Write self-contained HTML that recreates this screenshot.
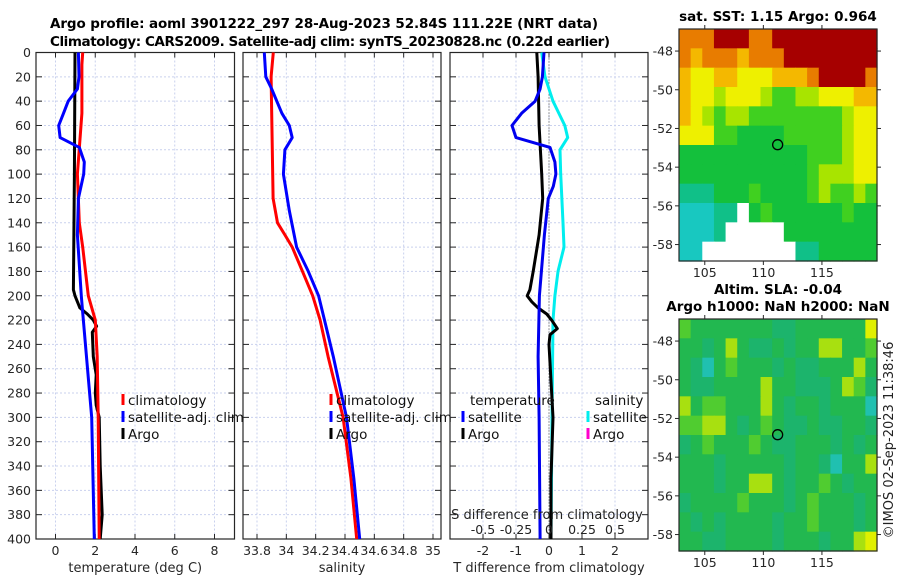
<!DOCTYPE html>
<html><head><meta charset="utf-8"><style>
html,body{margin:0;padding:0;background:#fff;}
svg{display:block;font-family:"DejaVu Sans","Liberation Sans",sans-serif;}
</style></head><body>
<svg id="fig" width="900" height="580" viewBox="0 0 900 580" xmlns="http://www.w3.org/2000/svg">
<rect width="900" height="580" fill="#fff"/>
<text x="50" y="28" font-size="13.5" font-weight="bold" fill="#000" textLength="548">Argo profile: aoml 3901222_297 28-Aug-2023 52.84S 111.22E (NRT data)</text>
<text x="50" y="46" font-size="13.5" font-weight="bold" fill="#000" textLength="560">Climatology: CARS2009. Satellite-adj clim: synTS_20230828.nc (0.22d earlier)</text>
<g id="layer"></g>
</svg>
<script>
// ---- profile data ----
var depthTClim = [0,10,50,100,140,160,200,220,250,300,400];
var tempClim   = [1.37,1.33,1.33,1.1,1.2,1.37,1.65,2.0,2.1,2.15,2.2];
var depthTSat  = [0,20,30,40,50,60,70,78,90,100,120,150,200,210,300,400];
var tempSat    = [1.15,1.18,1.1,0.64,0.4,0.16,0.23,1.2,1.45,1.42,1.15,1.1,1.3,1.35,1.82,1.95];
var depthTArgo = [0,100,195,200,210,215,220,225,230,250,265,280,290,300,340,380,400];
var tempArgo   = [0.98,0.95,0.9,0.98,1.23,1.6,1.9,2.07,1.85,1.9,2.05,2.0,2.05,2.2,2.25,2.35,2.25];
var depthSClim = [0,20,100,120,140,150,160,180,200,220,250,300,350,400];
var salClim    = [33.911,33.896,33.907,33.91,33.94,33.99,34.04,34.11,34.18,34.23,34.285,34.387,34.44,34.48];
var depthSSat  = [0,20,30,50,60,70,80,100,130,160,180,200,220,250,300,350,400];
var salSat     = [33.85,33.86,33.9,33.97,34.02,34.04,33.99,33.98,34.02,34.07,34.15,34.22,34.26,34.32,34.41,34.46,34.5];
var depthDT    = [0,20,30,40,50,60,70,78,90,100,110,120,150,200,250,300,400];
var tDiffSat   = [-0.15,-0.2,-0.27,-0.42,-0.83,-1.12,-1.0,0.03,0.18,0.21,0.13,-0.02,-0.14,-0.29,-0.33,-0.3,-0.27];
var depthDTA   = [0,20,60,100,120,150,180,195,200,205,210,215,220,227,232,240,300,350,400];
var tDiffArgo  = [-0.37,-0.33,-0.3,-0.22,-0.19,-0.3,-0.48,-0.58,-0.66,-0.52,-0.33,-0.07,0.08,0.25,0.03,0.0,0.12,0.06,0.06];
var depthDS    = [0,20,40,60,70,80,100,140,160,180,200,220,300,400];
var sDiffSat   = [-0.055,-0.03,0.03,0.12,0.142,0.083,0.089,0.106,0.114,0.068,0.045,0.03,0.023,0.015];
var depthTicks = [0,20,40,60,80,100,120,140,160,180,200,220,240,260,280,300,320,340,360,380,400];
var tTicks = [0,2,4,6,8];
var sTicks = [33.8,34,34.2,34.4,34.6,34.8,35];
var sTickLabels = ["33.8","34","34.2","34.4","34.6","34.8","35"];
var dTTicks = [-2,-1,0,1,2];
var dSTicks = [-0.5,-0.25,0,0.25,0.5];
var dSTickLabels = ["-0.5","-0.25","0","0.25","0.5"];
// ---- map data (1 deg cells, rows from north) ----
var sstLevels = [
[8,8,8,9,9,9,8,8,9,9,9,9,9,9,9,9,9],
[8,7,8,8,8,7,8,8,8,9,9,9,9,9,9,9,9],
[7,6,6,7,7,6,6,6,7,7,7,8,9,9,9,9,8],
[7,6,6,5,6,6,6,5,4,4,5,5,6,6,6,7,7],
[7,6,5,4,5,5,4,4,4,4,4,4,4,4,5,6,6],
[6,6,6,4,4,3,3,3,3,4,4,4,4,4,5,6,6],
[3,3,3,3,3,3,3,3,3,3,3,4,4,4,5,6,6],
[3,3,3,3,3,3,3,3,3,3,3,4,5,5,5,6,6],
[2,2,2,3,3,3,4,3,3,3,3,4,5,4,4,5,4],
[1,1,1,2,2,0,3,4,3,3,3,3,3,3,4,3,3],
[1,1,1,2,0,0,0,0,0,3,3,3,3,3,3,3,3],
[1,1,0,0,0,0,0,0,0,0,2,2,3,3,3,3,3]];
var slaLevels = [
[4,3,3,3,3,3,3,3,2,2,3,3,3,3,3,3,6],
[3,3,2,3,5,3,2,2,3,2,3,3,5,5,3,3,4],
[3,2,1,3,4,3,3,3,2,3,2,2,3,3,3,5,3],
[3,2,2,3,3,3,3,5,3,3,2,2,2,3,5,4,2],
[5,3,4,4,3,3,3,5,3,2,3,3,2,3,3,3,1],
[4,4,5,5,3,2,3,4,3,2,2,3,2,2,3,3,2],
[2,3,4,3,3,3,4,3,2,2,3,3,3,2,3,2,3],
[3,3,3,2,3,3,3,3,3,2,3,3,2,1,3,3,5],
[3,3,3,2,3,3,5,5,3,2,3,3,4,3,2,3,3],
[2,3,3,3,3,4,3,3,3,2,3,4,3,3,3,2,3],
[3,2,3,2,3,3,3,3,2,3,3,4,3,3,3,2,3],
[3,3,2,2,3,3,3,3,2,3,3,3,2,3,3,5,6]];
var lonTicks = [105,110,115];
var latTicks = [-48,-50,-52,-54,-56,-58];
var argoLon = 111.22, argoLat = -52.84;

var NS="http://www.w3.org/2000/svg";
var L=document.getElementById('layer');
function mk(tag,at,parent){var e=document.createElementNS(NS,tag);for(var k in at)e.setAttribute(k,at[k]);(parent||L).appendChild(e);return e;}
function txt(x,y,s,at){var e=mk('text',Object.assign({x:x,y:y,'font-size':12.5,fill:'#262626'},at||{}));e.textContent=s;return e;}

var Y0=52.5,Y1=539;
function yD(d){return Y0+(Y1-Y0)*d/400;}
function lin(d0,d1,p0,p1){return function(v){return p0+(v-d0)*(p1-p0)/(d1-d0);};}

function panel(name,x0,x1,xs,ticks,labels,yLabels,xtitle){
  var g=mk('g',{});
  
  
  ticks.forEach(function(t,i){
    var x=xs(t);
    mk('line',{x1:x,x2:x,y1:Y0,y2:Y1,stroke:'#c9d1ee','stroke-width':1,'stroke-dasharray':'2,2'},g);
    mk('line',{x1:x,x2:x,y1:Y1,y2:Y1-5,stroke:'#262626'},g);
    mk('line',{x1:x,x2:x,y1:Y0,y2:Y0+5,stroke:'#262626'},g);
    var t2=txt(x,555,labels[i],{'text-anchor':'middle'});
    
    
  });
  depthTicks.forEach(function(d){
    var y=yD(d);
    mk('line',{x1:x0,x2:x1,y1:y,y2:y,stroke:'#c9d1ee','stroke-width':1,'stroke-dasharray':'2,2'},g);
    mk('line',{x1:x0,x2:x0+6,y1:y,y2:y,stroke:'#262626'},g);
    mk('line',{x1:x1,x2:x1-6,y1:y,y2:y,stroke:'#262626'},g);
    if(yLabels){var t=txt(x0-5,y+4.5,String(d),{'text-anchor':'end'});
      
      }
  });
  mk('rect',{x:x0,y:Y0,width:x1-x0,height:Y1-Y0,fill:'none',stroke:'#262626','stroke-width':1.2},g);
  if(xtitle){var tt=txt((x0+x1)/2,572,xtitle,{'text-anchor':'middle','font-size':13});
    
    }
  return g;
}
function line(xs,vals,deps,color,name,w){
  var p=vals.map(function(v,i){return xs(v).toFixed(1)+','+yD(deps[i]).toFixed(1);}).join(' ');
  var e=mk('polyline',{points:p,fill:'none',stroke:color,'stroke-width':w||3,'stroke-linejoin':'round'});
  
  
}
function legend(x,y,color,label,name){
  mk('rect',{x:x-1.5,y:y-11,width:3,height:11,fill:color});
  var t=txt(x+5,y,label,{'font-size':13.5,fill:'#111'});
  
  
}

// Panel 1 temperature
var xT=lin(0,8,55.5,214.5);
panel('temperature-panel',36,234.5,xT,tTicks,tTicks.map(String),true,'temperature (deg C)');
line(xT,tempArgo,depthTArgo,'#000','argo-temperature-line');
line(xT,tempClim,depthTClim,'#ff0000','climatology-temperature-line');
line(xT,tempSat,depthTSat,'#0000ff','satellite-temperature-line');
legend(123,405,'#ff0000','climatology','legend-climatology');
legend(123,422,'#0000ff','satellite-adj. clim','legend-satellite-adj');
legend(123,439,'#000','Argo','legend-argo');

// Panel 2 salinity
var xS=lin(33.8,35,257,433);
panel('salinity-panel',243,441,xS,sTicks,sTickLabels,false,'salinity');
line(xS,salClim,depthSClim,'#ff0000','climatology-salinity-line');
line(xS,salSat,depthSSat,'#0000ff','satellite-salinity-line');
legend(331,405,'#ff0000','climatology','legend-climatology-2');
legend(331,422,'#0000ff','satellite-adj. clim','legend-satellite-adj-2');
legend(331,439,'#000','Argo','legend-argo-2');

// Panel 3 differences
var xD=lin(-2,2,483,615);
var xDS=lin(-0.5,0.5,483,615);
panel('difference-panel',450,648,xD,dTTicks,dTTicks.map(String),false,'T difference from climatology');
mk('line',{x1:549,x2:549,y1:Y0,y2:Y1,stroke:'#444','stroke-width':1,'stroke-dasharray':'1,2'});
line(xDS,sDiffSat,depthDS,'#00eeee','salinity-difference-satellite-line');
line(xD,tDiffArgo,depthDTA,'#000','argo-temperature-difference-line');
line(xD,tDiffSat,depthDT,'#0000ee','satellite-temperature-difference-line');
var tl=txt(470,405,'temperature',{'font-size':13.5,fill:'#111'});


legend(463,422,'#0000ff','satellite','legend-t-satellite');
legend(463,439,'#000','Argo','legend-t-argo');
var sl=txt(595,405,'salinity',{'font-size':13.5,fill:'#111'});


legend(588,422,'#00eeee','satellite','legend-s-satellite');
legend(588,439,'#ff00cc','Argo','legend-s-argo');
var sdt=txt(547,519,'S difference from climatology',{'text-anchor':'middle','font-size':13,fill:'#222'});


dSTicks.forEach(function(v,i){
  var e=txt(xDS(v),534,dSTickLabels[i],{'text-anchor':'middle','font-size':12.5,fill:'#222'});
  
  
});

// Maps
var sstColors=['#ffffff','#18c8c0','#10c088','#14c03c','#40d020','#a8e400','#eef000','#f4b800','#e87c00','#a60000'];
var slaColors=['#ffffff','#20c0b0','#1cb46c','#22b850','#50cc30','#a8e010','#e0f000'];
function map(name,top,bottom,levels,colors,title1,title2){
  var x0=679,x1=877;
  var lx=lin(102.8,119.7,x0,x1), ly=lin(-46.86,-58.85,top,bottom);
  var g=mk('g',{});
  
  
  var nr=levels.length,nc=levels[0].length;
  var cw=(x1-x0)/nc,ch=(bottom-top)/nr;
  levels.forEach(function(row,r){row.forEach(function(v,c){
    var e=mk('rect',{x:(x0+c*cw).toFixed(2),y:(top+r*ch).toFixed(2),width:(cw+0.6).toFixed(2),height:(ch+0.6).toFixed(2),fill:colors[v]},g);
    
    
  });});
  mk('rect',{x:x0,y:top,width:x1-x0,height:bottom-top,fill:'none',stroke:'#262626','stroke-width':1.2},g);
  lonTicks.forEach(function(v){
    mk('line',{x1:lx(v),x2:lx(v),y1:bottom,y2:bottom+4,stroke:'#262626'},g);
    mk('line',{x1:lx(v),x2:lx(v),y1:top,y2:top-4,stroke:'#262626'},g);
    var e=txt(lx(v),bottom+16,String(v),{'text-anchor':'middle','font-size':12.5});
    
    
  });
  latTicks.forEach(function(v){
    mk('line',{x1:x0,x2:x0-4,y1:ly(v),y2:ly(v),stroke:'#262626'},g);
    mk('line',{x1:x1,x2:x1+4,y1:ly(v),y2:ly(v),stroke:'#262626'},g);
    var e=txt(x0-6,ly(v)+4.5,String(v),{'text-anchor':'end','font-size':12.5});
    
    
  });
  var m=mk('circle',{cx:lx(argoLon),cy:ly(argoLat),r:5,fill:'none',stroke:'#000','stroke-width':1.3},g);
  
  
  if(title1){var t=txt(778,top-8-(title2?17:0),title1,{'text-anchor':'middle','font-size':13.5,'font-weight':'bold',fill:'#000'});
    
    }
  if(title2){var t2=txt(778,top-8,title2,{'text-anchor':'middle','font-size':13.5,'font-weight':'bold',fill:'#000'});
    
    }
}
map('sst-map',29,261,sstLevels,sstColors,'sat. SST: 1.15 Argo: 0.964',null);
map('sla-map',319,551,slaLevels,slaColors,'Altim. SLA: -0.04','Argo h1000: NaN h2000: NaN');
var st=txt(0,0,'\u00a9IMOS 02-Sep-2023 11:38:46',{'text-anchor':'middle','font-size':13,fill:'#222',transform:'translate(893,440) rotate(-90)'});


</script>
</body></html>
